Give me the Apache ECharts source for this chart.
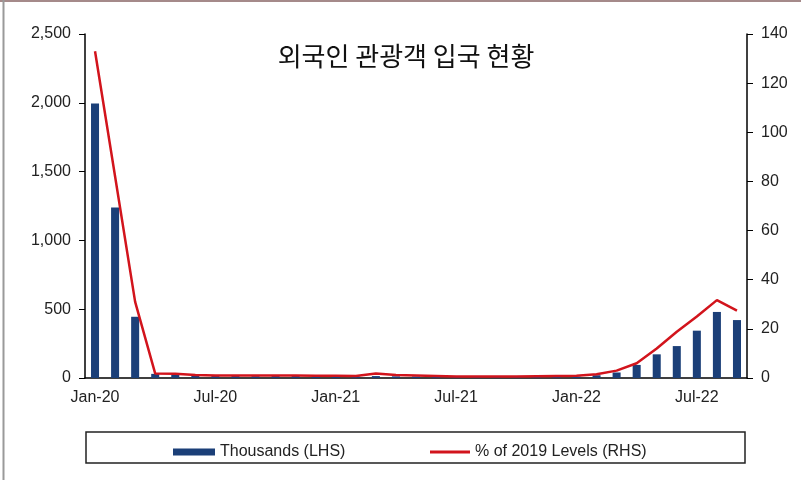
<!DOCTYPE html>
<html><head><meta charset="utf-8">
<script src="https://cdn.jsdelivr.net/npm/echarts@6/dist/echarts.min.js"></script>
<style>html,body{margin:0;padding:0;background:#fff}#c{width:801px;height:480px}</style>
</head><body><div id="c"></div>
<script>
var months = ['Jan-20','Feb-20','Mar-20','Apr-20','May-20','Jun-20','Jul-20','Aug-20','Sep-20','Oct-20','Nov-20','Dec-20',
'Jan-21','Feb-21','Mar-21','Apr-21','May-21','Jun-21','Jul-21','Aug-21','Sep-21','Oct-21','Nov-21','Dec-21',
'Jan-22','Feb-22','Mar-22','Apr-22','May-22','Jun-22','Jul-22','Aug-22','Sep-22'];
var thousands = [1995,1240,445,30,22,15,14,14,13,14,14,12,
12,11,14,12,11,10,10,10,10,12,13,12,
10,20,40,95,172,232,344,480,421];
var pctOf2019 = [133,82,31,1.8,1.7,1.2,1.0,1.0,1.0,1.0,1.0,0.9,
0.9,0.8,1.8,1.2,1.0,0.8,0.6,0.6,0.6,0.6,0.7,0.8,
0.9,1.5,3,6,12,18.8,25,31.7,27.4];
var titleText = '외국인 관광객 입국 현황';
var barName = 'Thousands (LHS)';
var lineName = '% of 2019 Levels (RHS)';

var chart = echarts.init(document.getElementById('c'), null, {renderer:'canvas'});
var font = 'Liberation Sans, Arial, sans-serif';
chart.setOption({
  animation:false,
  grid:{left:85,right:54,top:34,bottom:102,containLabel:false},
  graphic:[
    {type:'line',shape:{x1:0,y1:1,x2:801,y2:1},style:{stroke:'#a58a8a',lineWidth:2}},
    {type:'line',shape:{x1:3.5,y1:0,x2:3.5,y2:480},style:{stroke:'#9a9a9a',lineWidth:2}},
    {type:'rect',shape:{x:86,y:432,width:659,height:31},style:{fill:'none',stroke:'#222',lineWidth:1.5}},
    {type:'text',x:406,y:56,style:{text:titleText,fontFamily:'Noto Sans CJK KR',fontSize:26,fill:'#111',textAlign:'center',textVerticalAlign:'middle'}}
  ],
  legend:[
    {data:[barName],left:168,top:439,itemWidth:42,itemHeight:7,icon:'rect',itemGap:10,
     textStyle:{fontFamily:font,fontSize:16,color:'#222'}},
    {data:[lineName],left:425,top:439,itemWidth:40,itemHeight:3,icon:'rect',
     textStyle:{fontFamily:font,fontSize:16,color:'#222'}}
  ],
  xAxis:{type:'category',data:months,boundaryGap:true,
    axisLine:{lineStyle:{color:'#000',width:1.5}},
    axisTick:{interval:5,length:6,lineStyle:{color:'#000'}},
    axisLabel:{interval:5,margin:12,fontFamily:font,fontSize:16,color:'#222'}},
  yAxis:[
    {type:'value',min:0,max:2500,interval:500,position:'left',
     splitLine:{show:false},
     axisLine:{show:true,lineStyle:{color:'#000',width:1.5}},
     axisTick:{show:true,inside:false,length:6,lineStyle:{color:'#000'}},
     axisLabel:{margin:14,fontFamily:font,fontSize:16,color:'#222',
       formatter:function(v){return v.toLocaleString('en-US');}}},
    {type:'value',min:0,max:140,interval:20,position:'right',
     splitLine:{show:false},
     axisLine:{show:true,lineStyle:{color:'#000',width:1.5}},
     axisTick:{show:true,inside:false,length:6,lineStyle:{color:'#000'}},
     axisLabel:{margin:14,fontFamily:font,fontSize:16,color:'#222'}}
  ],
  series:[
    {name:barName,type:'bar',data:thousands,yAxisIndex:0,barWidth:'40%',
     itemStyle:{color:'#1b3f78'}},
    {name:lineName,type:'line',data:pctOf2019,yAxisIndex:1,symbol:'none',
     lineStyle:{color:'#d2141c',width:2.5},itemStyle:{color:'#d2141c'}}
  ]
});
</script></body></html>
